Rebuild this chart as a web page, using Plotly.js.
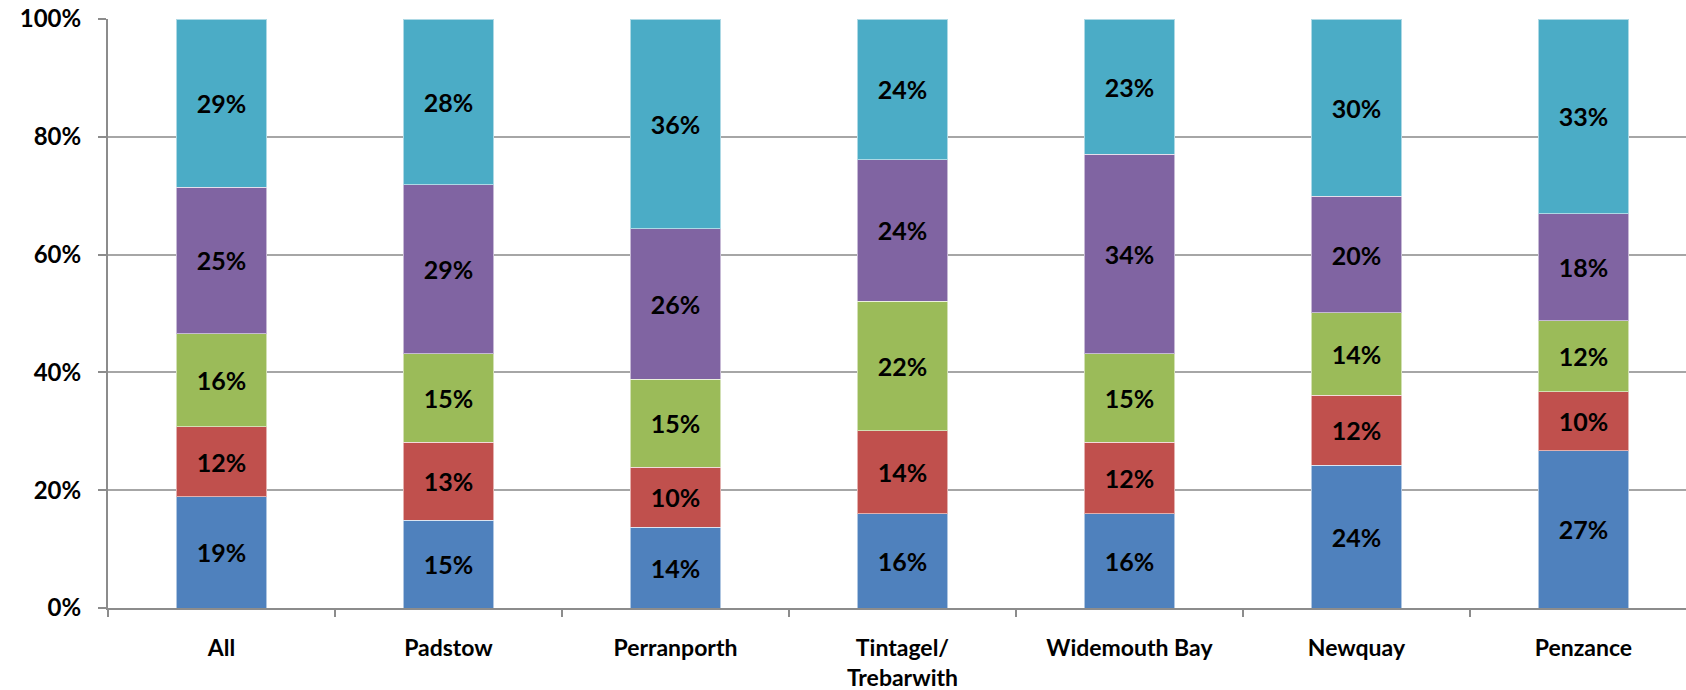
<!DOCTYPE html>
<html>
<head>
<meta charset="utf-8">
<script src="https://cdn.plot.ly/plotly-3.0.1.min.js"></script>
<style>
  html, body { margin: 0; padding: 0; background: #fff; }
  #chart { width: 1686px; height: 690px; }
</style>
</head>
<body>
<div id="chart"></div>
<script>
// Locations along the x axis
const locations = ['All', 'Padstow', 'Perranporth', 'Tintagel/<br>Trebarwith', 'Widemouth Bay', 'Newquay', 'Penzance'];

// Share of responses (%) for each stacked segment, bottom to top
const seg1 = [18.9, 14.9, 13.7, 16.0, 16.0, 24.2, 26.7];
const seg2 = [11.9, 13.2, 10.2, 14.1, 12.1, 11.9, 10.0];
const seg3 = [15.8, 15.1, 14.9, 22.0, 15.1, 14.0, 12.1];
const seg4 = [24.8, 28.7, 25.6, 24.0, 33.8, 19.8, 18.1];
const seg5 = [28.6, 28.1, 35.6, 23.9, 23.0, 30.1, 33.1];

const segColors = ['#4F81BD', '#C0504D', '#9BBB59', '#8064A2', '#4BACC6'];
const segValues = [seg1, seg2, seg3, seg4, seg5];

const labelFont = { family: 'Lato, "Open Sans", sans-serif', size: 25, color: '#000', weight: 700 };

const traces = segValues.map((vals, i) => ({
  type: 'bar',
  x: locations,
  y: vals,
  width: 0.4,
  marker: { color: segColors[i], line: { color: 'rgba(255,255,255,0.55)', width: 1 } },
  texttemplate: '%{y:.0f}%',
  textposition: 'inside',
  insidetextanchor: 'middle',
  textangle: 0,
  constraintext: 'none',
  textfont: labelFont,
  hoverinfo: 'skip',
  showlegend: false
}));

const layout = {
  width: 1686,
  height: 690,
  barmode: 'stack',
  paper_bgcolor: '#fff',
  plot_bgcolor: '#fff',
  margin: { l: 108, r: 0, t: 19, b: 82 },
  font: { family: 'Lato, "Open Sans", sans-serif', size: 24, color: '#000' },
  xaxis: {
    type: 'category',
    range: [-0.5, 6.452],
    showgrid: false,
    showline: true,
    linecolor: '#8c8c8c',
    linewidth: 2,
    ticks: 'outside',
    tickson: 'boundaries',
    ticklen: 7,
    tickwidth: 2,
    tickcolor: '#8c8c8c',
    tickfont: { family: 'Lato, "Open Sans", sans-serif', size: 23, color: '#000', weight: 700 },
    ticklabelstandoff: 18,
    fixedrange: true
  },
  yaxis: {
    range: [0, 100],
    tickvals: [0, 20, 40, 60, 80, 100],
    ticktext: ['0%', '20%', '40%', '60%', '80%', '100%'],
    showgrid: true,
    gridcolor: '#a6a6a6',
    gridwidth: 2,
    zeroline: false,
    showline: true,
    linecolor: '#8c8c8c',
    linewidth: 2,
    ticks: 'outside',
    ticklen: 8,
    tickwidth: 2,
    tickcolor: '#8c8c8c',
    tickfont: { family: 'Lato, "Open Sans", sans-serif', size: 24, color: '#000', weight: 700 },
    ticklabelstandoff: 12,
    fixedrange: true
  }
};

Plotly.newPlot('chart', traces, layout, { displayModeBar: false, staticPlot: true });
</script>
</body>
</html>
